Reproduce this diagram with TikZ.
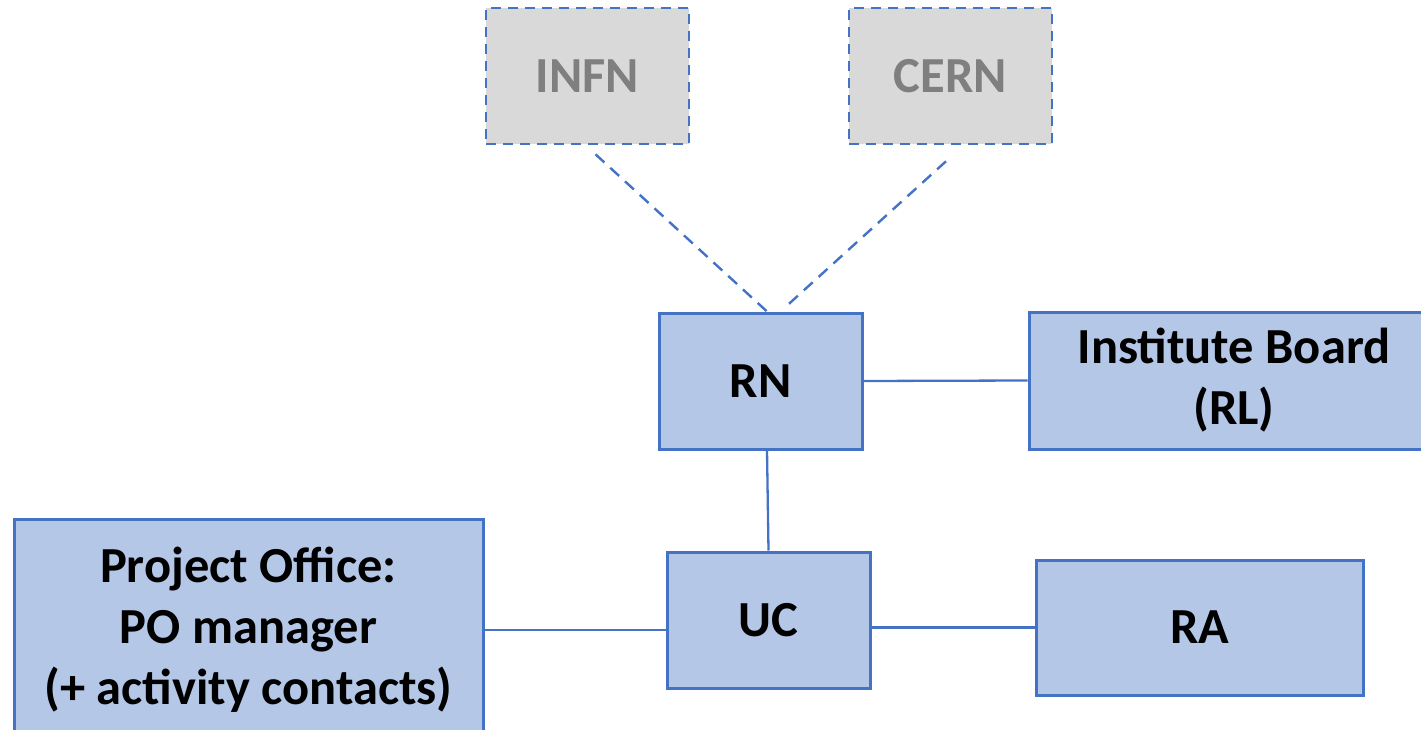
\documentclass[tikz,border=0pt]{standalone}
\usepackage{fontspec}
\setmainfont{Carlito}
\definecolor{edgeblue}{HTML}{4472C4}
\definecolor{boxfill}{HTML}{B4C7E7}
\definecolor{extfill}{HTML}{D9D9D9}
\definecolor{exttext}{HTML}{7F7F7F}
\tikzset{
  orgbox/.style={draw=edgeblue, fill=boxfill, line width=3pt, rectangle, inner sep=0pt,
    align=center, font=\fontsize{50.5}{61}\selectfont\bfseries, text=black},
  extbox/.style={draw=edgeblue, fill=extfill, line width=2.6pt, rectangle, inner sep=0pt,
    dash pattern=on 10pt off 7pt, align=center, font=\fontsize{50.5}{61}\selectfont\bfseries, text=exttext},
  link/.style={draw=edgeblue, line width=2.3pt},
  dashlink/.style={draw=edgeblue, line width=2.4pt, dash pattern=on 12pt off 8pt},
}
\begin{document}
\begin{tikzpicture}[x=1pt,y=-1pt]
\useasboundingbox (0,0) rectangle (1421,730);
\node[extbox, minimum width=203pt, minimum height=136pt] (infn) at (587.5,76) {INFN};
\node[extbox, minimum width=203pt, minimum height=136pt] (cern) at (950.5,76) {CERN};
\node[orgbox, minimum width=203pt, minimum height=136pt] (rn) at (760.5,381) {RN};
\node[orgbox, minimum width=410pt, minimum height=137pt] (ib) at (1234,380.5) {Institute Board\\(RL)};
\node[orgbox, minimum width=203pt, minimum height=136pt] (uc) at (768.5,620) {UC};
\node[orgbox, minimum width=327pt, minimum height=135pt] (ra) at (1199.5,627.5) {RA};
\node[orgbox, minimum width=469pt, minimum height=222pt] (po) at (248.5,630) {Project Office:\\PO manager\\(+ activity contacts)};

\draw[dashlink] ([shift={(8,9)}]infn.south) -- ([xshift=6.5pt]rn.north);
\draw[dashlink] ([shift={(-4.5,16)}]cern.south) -- ([shift={(25.5,-5)}]rn.north);
\draw[link] (rn.east) -- (ib.west);
\draw[link] ([xshift=6.5pt]rn.south) -- (uc.north);
\draw[link] (po.east) -- (uc.west |- po.east);
\draw[link] (ra.west -| uc.east) -- (ra.west);
\end{tikzpicture}
\end{document}
